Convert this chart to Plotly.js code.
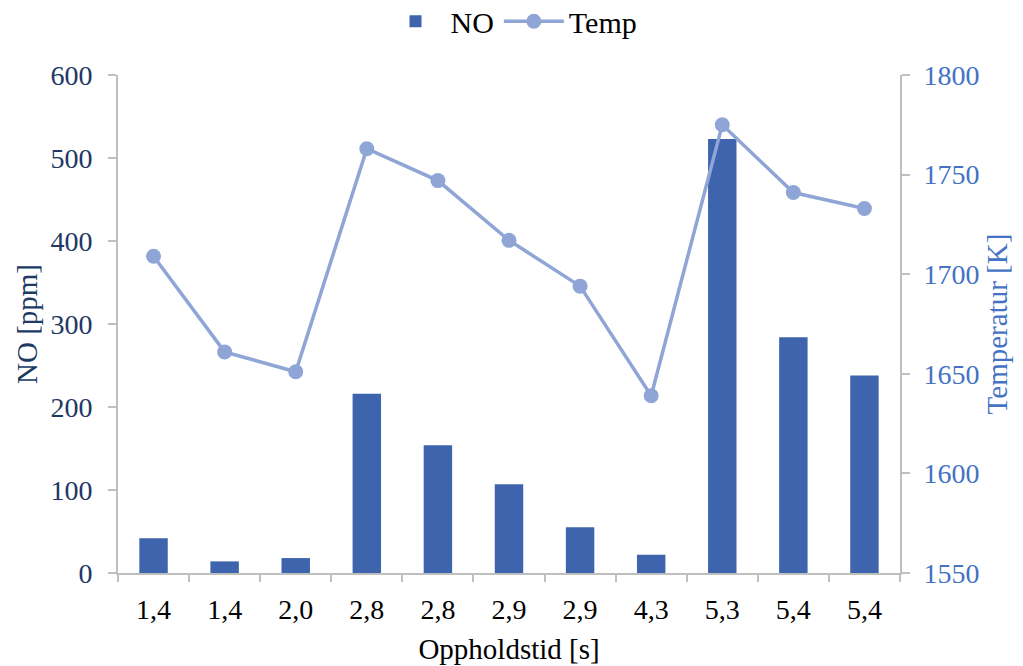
<!DOCTYPE html>
<html>
<head>
<meta charset="utf-8">
<script src="https://cdn.plot.ly/plotly-3.0.1.min.js"></script>
<style>
  html, body { margin: 0; padding: 0; background: #ffffff; }
  #chart { width: 1023px; height: 666px; }
</style>
</head>
<body>
<div id="chart"></div>
<script>
// Residence time labels (one per run), NO emissions and flame temperature
const tidLabels = ["1,4", "1,4", "2,0", "2,8", "2,8", "2,9", "2,9", "4,3", "5,3", "5,4", "5,4"];
const noPpm = [42, 14, 18, 216, 154, 107, 55, 22, 523, 284, 238];
const tempK = [1709, 1661, 1651, 1763, 1747, 1717, 1694, 1639, 1775, 1741, 1733];

const pos = tidLabels.map((_, i) => i);
const boundaries = [];
for (let i = 0; i <= tidLabels.length; i++) boundaries.push(i - 0.5);

const serif = "Liberation Serif, Times New Roman, serif";
const navy = "#203864";
const blue = "#4472C4";
const grid = "#BFBFBF";

const traces = [
  {
    type: "bar",
    name: "NO",
    x: pos,
    y: noPpm,
    width: 0.4,
    marker: { color: "#3D64AC" },
    xaxis: "x",
    yaxis: "y"
  },
  {
    type: "scatter",
    mode: "lines+markers",
    name: "Temp",
    x: pos,
    y: tempK,
    line: { color: "#8FA5D6", width: 3.5 },
    marker: { color: "#8FA5D6", size: 15 },
    xaxis: "x",
    yaxis: "y2"
  }
];

const xr = [-0.5, tidLabels.length - 0.5];

const layout = {
  width: 1023,
  height: 666,
  margin: { l: 118, r: 123, t: 75, b: 93, autoexpand: false },
  paper_bgcolor: "#ffffff",
  plot_bgcolor: "#ffffff",
  font: { family: serif, size: 28, color: "#000000" },
  showlegend: true,
  legend: {
    orientation: "h",
    x: 0.5, xanchor: "center", xref: "container",
    y: 0.968, yanchor: "middle", yref: "container",
    font: { family: serif, size: 30, color: "#000000" },
    itemwidth: 60,
    tracegroupgap: 0
  },
  xaxis: {
    range: xr,
    tickmode: "array",
    tickvals: pos,
    ticktext: tidLabels,
    ticks: "",
    ticklabelstandoff: 10,
    showgrid: false,
    zeroline: false,
    showline: true,
    linecolor: grid,
    linewidth: 2,
    tickfont: { family: serif, size: 28, color: "#000000" },
    title: { text: "Oppholdstid [s]", font: { family: serif, size: 29, color: "#000000" }, standoff: 15 },
    fixedrange: true
  },
  xaxis2: {
    overlaying: "x",
    range: xr,
    tickmode: "array",
    tickvals: boundaries,
    ticktext: boundaries.map(() => ""),
    ticks: "outside",
    ticklen: 8,
    tickwidth: 2,
    tickcolor: grid,
    showgrid: false,
    zeroline: false,
    showline: false,
    anchor: "y",
    side: "bottom"
  },
  yaxis: {
    range: [0, 600],
    dtick: 100,
    ticks: "outside",
    ticklen: 8,
    tickwidth: 2,
    tickcolor: grid,
    ticklabelstandoff: 10,
    showline: true,
    linecolor: grid,
    linewidth: 2,
    showgrid: false,
    zeroline: false,
    tickfont: { family: serif, size: 28, color: navy },
    title: { text: "NO [ppm]", font: { family: serif, size: 29, color: navy }, standoff: 4 }
  },
  yaxis2: {
    overlaying: "y",
    side: "right",
    range: [1550, 1800],
    dtick: 50,
    ticks: "outside",
    ticklen: 8,
    tickwidth: 2,
    tickcolor: grid,
    ticklabelstandoff: 8,
    showline: true,
    linecolor: grid,
    linewidth: 2,
    showgrid: false,
    zeroline: false,
    tickfont: { family: serif, size: 28, color: blue },
    title: { text: "Temperatur [K]", font: { family: serif, size: 29, color: blue }, standoff: 8 }
  }
};

// Invisible helper trace so the boundary tick axis is drawn
traces.push({
  type: "scatter",
  x: xr,
  y: [0, 0],
  mode: "lines",
  line: { width: 0 },
  hoverinfo: "skip",
  showlegend: false,
  xaxis: "x2",
  yaxis: "y"
});

Plotly.newPlot("chart", traces, layout, { displayModeBar: false, staticPlot: true });
</script>
</body>
</html>
